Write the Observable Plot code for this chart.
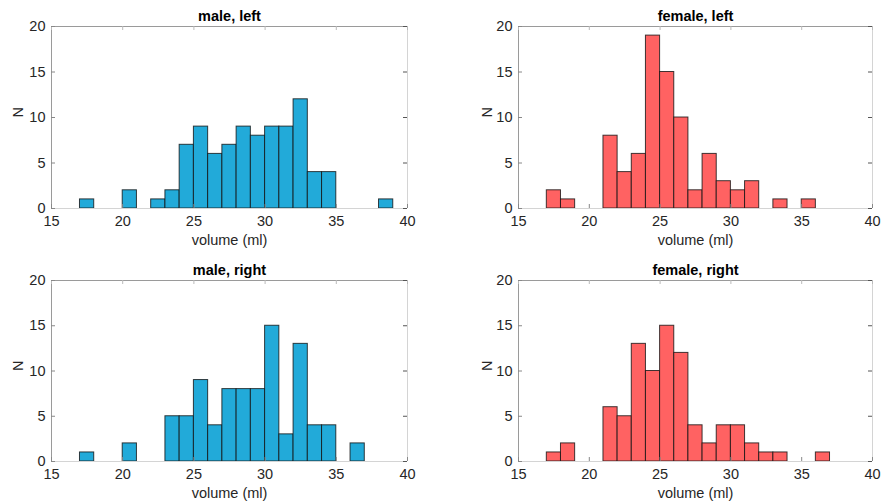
<!DOCTYPE html>
<html>
<head>
<meta charset="utf-8">
<script src="https://cdn.jsdelivr.net/npm/d3@7"></script>
<script src="https://cdn.jsdelivr.net/npm/@observablehq/plot@0.6"></script>
<style>
  html, body { margin: 0; padding: 0; background: #fff; }
  #root { position: relative; width: 888px; height: 503px; }
  .panel { position: absolute; }
</style>
</head>
<body>
<div id="root"></div>
<script>
// Bin left edges (bin width 1 ml)
const binStarts = [17,18,19,20,21,22,23,24,25,26,27,28,29,30,31,32,33,34,35,36,37,38];
const maleLeft    = [1,0,0,2,0,1,2,7,9,6,7,9,8,9,9,12,4,4,0,0,0,1];
const femaleLeft  = [2,1,0,0,8,4,6,19,15,10,2,6,3,2,3,0,1,0,1,0,0,0];
const maleRight   = [1,0,0,2,0,0,5,5,9,4,8,8,8,15,3,13,4,4,0,2,0,0];
const femaleRight = [1,2,0,0,6,5,13,10,15,12,4,2,4,4,2,1,1,0,0,1,0,0];

const panelTitles = ["male, left", "female, left", "male, right", "female, right"];
const xTicks = [15, 20, 25, 30, 35, 40];
const yTicks = [0, 5, 10, 15, 20];
const xDomain = [15, 40];
const yDomain = [0, 20];
const xLabel = "volume (ml)";
const yLabel = "N";

const blue = "#22aad9";
const red = "#ff6262";

const panels = [
  {title: panelTitles[0], counts: maleLeft,    fill: blue, left: 0,   top: 0,   ml: 51, mr: 37, mt: 26, mb: 42, h: 250},
  {title: panelTitles[1], counts: femaleLeft,  fill: red,  left: 444, top: 0,   ml: 74, mr: 16, mt: 26, mb: 42, h: 250},
  {title: panelTitles[2], counts: maleRight,   fill: blue, left: 0,   top: 250, ml: 51, mr: 37, mt: 30, mb: 42, h: 253},
  {title: panelTitles[3], counts: femaleRight, fill: red,  left: 444, top: 250, ml: 74, mr: 16, mt: 30, mb: 42, h: 253}
];

const root = document.getElementById("root");
for (const p of panels) {
  const W = 444;
  const innerW = W - p.ml - p.mr;
  const innerH = p.h - p.mt - p.mb;
  const tx = 4 * (xDomain[1] - xDomain[0]) / innerW;
  const ty = 4 * (yDomain[1] - yDomain[0]) / innerH;
  const bins = binStarts.map((b, i) => ({x1: b, x2: b + 1, n: p.counts[i]})).filter(d => d.n > 0);
  const chart = Plot.plot({
    width: W,
    height: p.h,
    marginLeft: p.ml,
    marginRight: p.mr,
    marginTop: p.mt,
    marginBottom: p.mb,
    style: {fontFamily: "'Liberation Sans', Arial, sans-serif", fontSize: "14.5px", color: "#262626", background: "#fff"},
    x: {domain: xDomain},
    y: {domain: yDomain},
    marks: [
      Plot.rectY(bins, {x1: "x1", x2: "x2", y: "n", fill: p.fill, stroke: "#111", strokeOpacity: 0.8, strokeWidth: 1}),
      // frame
      Plot.ruleY([yDomain[0]], {stroke: "#d4d4d4"}),
      Plot.ruleX([xDomain[1]], {stroke: "#d4d4d4"}),
      Plot.ruleY([yDomain[1]], {stroke: "#9a9a9a"}),
      Plot.ruleX([xDomain[0]], {stroke: "#9a9a9a"}),
      // inward ticks
      Plot.ruleX(xTicks, {x: d => d, y1: yDomain[0], y2: yDomain[0] + ty, stroke: "#888"}),
      Plot.ruleX(xTicks, {x: d => d, y1: yDomain[1], y2: yDomain[1] - ty, stroke: "#bbb"}),
      Plot.ruleY(yTicks, {y: d => d, x1: xDomain[0], x2: xDomain[0] + tx, stroke: "#888"}),
      Plot.ruleY(yTicks, {y: d => d, x1: xDomain[1], x2: xDomain[1] - tx, stroke: "#555"}),
      Plot.axisX(xTicks, {tickSize: 0, tickPadding: 7, label: null, fill: "#262626"}),
      Plot.axisY(yTicks, {tickSize: 0, tickPadding: 6, label: null, fill: "#262626"}),
      Plot.text([xLabel], {frameAnchor: "bottom", dy: 32, lineAnchor: "middle", fill: "#262626"}),
      Plot.text([yLabel], {frameAnchor: "left", dx: p.ml === 51 ? -33 : -31, rotate: -90, lineAnchor: "middle", fill: "#262626"}),
      Plot.text([p.title], {frameAnchor: "top", dy: -10, lineAnchor: "middle", fontWeight: "bold", fill: "#000"})
    ]
  });
  const div = document.createElement("div");
  div.className = "panel";
  div.style.left = p.left + "px";
  div.style.top = p.top + "px";
  div.appendChild(chart);
  root.appendChild(div);
}
</script>
</body>
</html>
